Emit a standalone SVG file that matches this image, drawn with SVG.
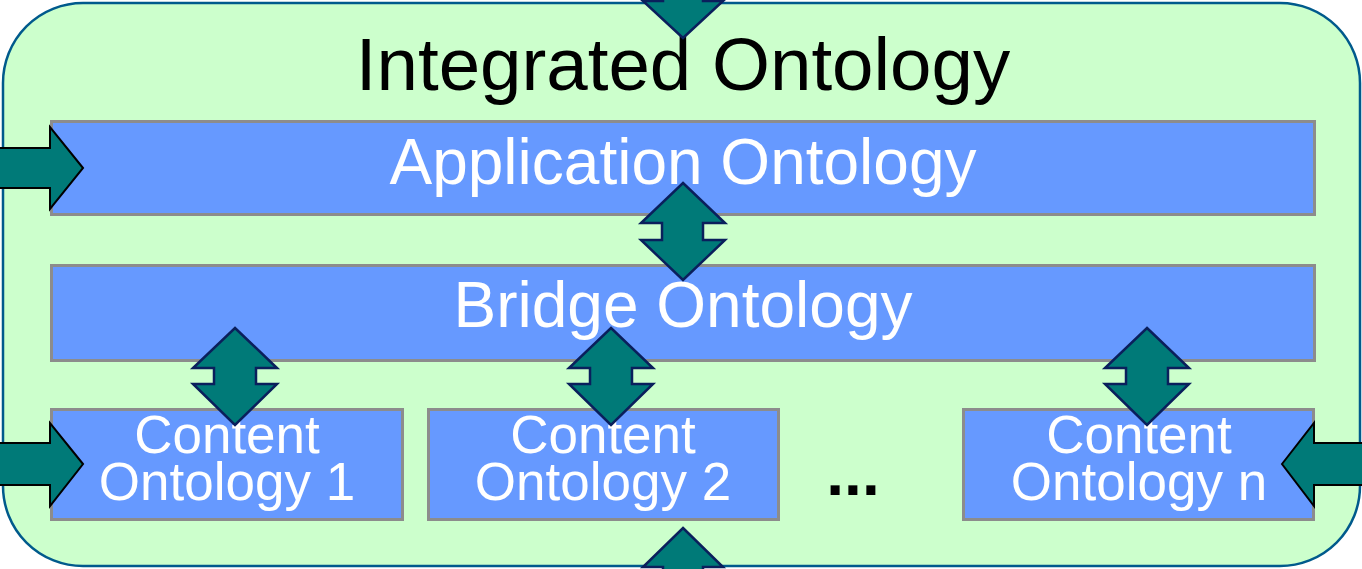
<svg xmlns="http://www.w3.org/2000/svg" width="1362" height="569" viewBox="0 0 1362 569">
<style>
.box{fill:#6699ff;stroke:#8c8c8c;stroke-width:3}
.wt{fill:#ffffff;font-family:"Liberation Sans",Arial,sans-serif;text-anchor:middle}
.arr{fill:#007a78;stroke:#000000;stroke-width:2;stroke-linejoin:miter}
.darr{fill:#007a78;stroke:#0a1f5c;stroke-width:2.5;stroke-linejoin:miter}
</style>
<rect width="1362" height="569" fill="#ffffff"/>
<g id="integrated">
<rect x="3" y="3" width="1357" height="563" rx="80" ry="80" fill="#ccffcc" stroke="#005a8c" stroke-width="2.5"/>
<text x="683" y="90" font-family="Liberation Sans, Arial, sans-serif" font-size="74.5" text-anchor="middle" fill="#000000">Integrated Ontology</text>
</g>
<g id="application">
<rect class="box" x="51.5" y="121.5" width="1263" height="93"/>
<text class="wt" x="683" y="184" font-size="64">Application Ontology</text>
</g>
<g id="bridge">
<rect class="box" x="51.5" y="265.5" width="1263" height="95"/>
<text class="wt" x="683" y="327" font-size="64">Bridge Ontology</text>
</g>
<g id="content1">
<rect class="box" x="51.5" y="409.5" width="351" height="110"/>
<text class="wt" x="227" y="453" font-size="53">Content</text>
<text class="wt" x="227" y="500" font-size="53">Ontology 1</text>
</g>
<g id="content2">
<rect class="box" x="428.5" y="409.5" width="350" height="110"/>
<text class="wt" x="603" y="453" font-size="53">Content</text>
<text class="wt" x="603" y="500" font-size="53">Ontology 2</text>
</g>
<g id="dots">
<text x="853" y="495" font-family="Liberation Sans, Arial, sans-serif" font-size="64" font-weight="bold" text-anchor="middle" fill="#000000">...</text>
</g>
<g id="contentn">
<rect class="box" x="963.5" y="409.5" width="350" height="110"/>
<text class="wt" x="1139" y="453" font-size="53">Content</text>
<text class="wt" x="1139" y="500" font-size="53">Ontology n</text>
</g>
<g id="connectors">
<path class="darr" d="M683,38 L723,1 L703,1 L703,-20 L663,-20 L663,1 L643,1 Z"/>
<path class="darr" d="M683,528 L723,567 L703,567 L703,590 L663,590 L663,567 L643,567 Z"/>
<path class="arr" d="M83,168 L50,127 L50,148 L-10,148 L-10,188 L50,188 L50,209 Z"/>
<path class="arr" d="M83,464 L50,423 L50,443 L-10,443 L-10,485 L50,485 L50,506 Z"/>
<path class="arr" d="M1282,464 L1314,423 L1314,443 L1375,443 L1375,485 L1314,485 L1314,506 Z"/>
<path class="darr" d="M683,183 L725,223 L703,223 L703,240 L725,240 L683,280 L641,240 L662,240 L662,223 L641,223 Z"/>
<path class="darr" d="M235,328 L277,368 L256,368 L256,384 L277,384 L235,425 L193,384 L214,384 L214,368 L193,368 Z"/>
<path class="darr" d="M611,328 L653,368 L632,368 L632,384 L653,384 L611,425 L569,384 L590,384 L590,368 L569,368 Z"/>
<path class="darr" d="M1147,328 L1189,368 L1168,368 L1168,384 L1189,384 L1147,425 L1105,384 L1126,384 L1126,368 L1105,368 Z"/>
</g>
</svg>
